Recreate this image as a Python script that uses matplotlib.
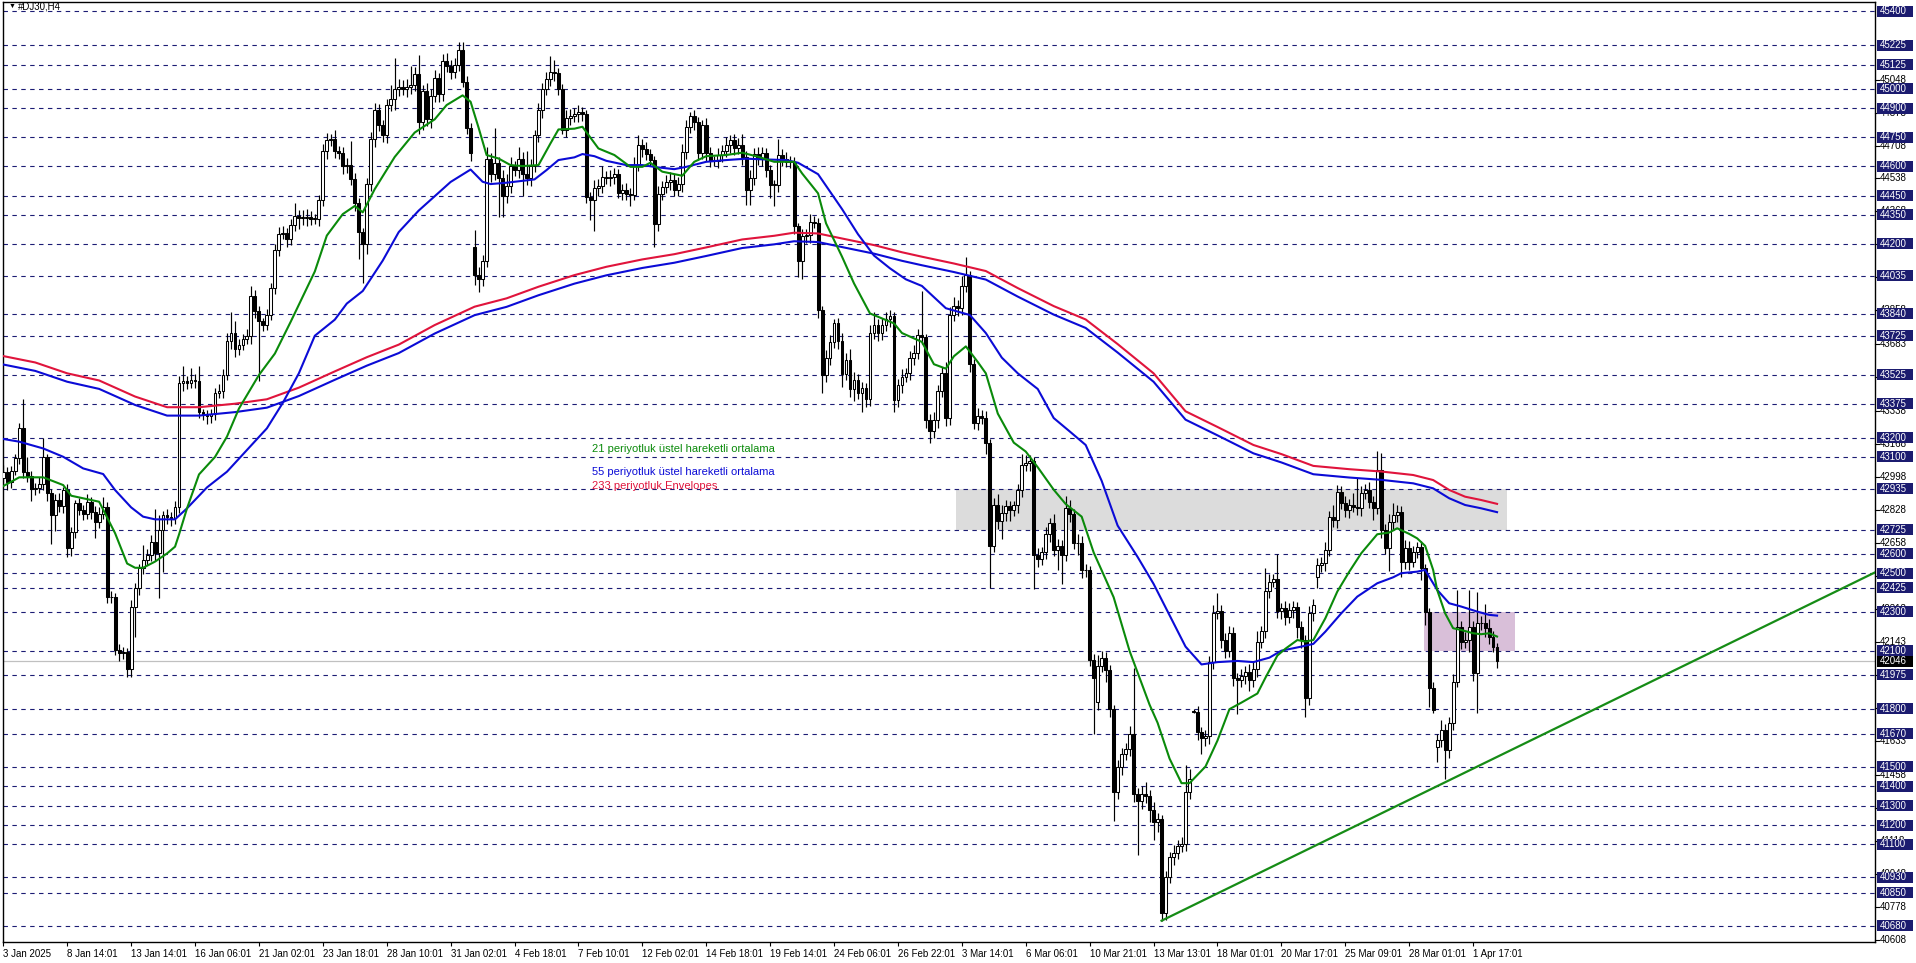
"""Rebuilds the #DJ30 H4 chart: candles, moving averages, level lines and zones."""

import matplotlib

matplotlib.use("Agg")

import matplotlib.pyplot as plt
import numpy as np
from matplotlib.patches import Rectangle
from matplotlib.transforms import blended_transform_factory

plt.rcParams["font.family"] = ["Liberation Sans", "DejaVu Sans"]

SYMBOL = "#DJ30,H4"

# 4 hour closes, bar 0 = 3 Jan 2025
closes = [
    43020, 42972, 43030, 43093, 43248, 43024, 43000, 42935, 42940, 42960, 43098, 42912, 42800, 42878, 42845, 42930, 42628, 42714, 42860, 42825, 42808, 42870, 42818, 42765, 42808,
    42843, 42379, 42375, 42103, 42086, 42095, 42008, 42327, 42422, 42525, 42568, 42594, 42663, 42602, 42723, 42800, 42790, 42783, 42843, 43480, 43490, 43480, 43500, 43490, 43330,
    43320, 43310, 43320, 43430, 43440, 43525, 43700, 43740, 43660, 43680, 43710, 43725, 43930, 43855, 43800, 43780, 43835, 43975, 44169, 44252, 44255, 44225, 44300, 44345, 44335,
    44335, 44340, 44330, 44330, 44425, 44680, 44735, 44740, 44680, 44670, 44603, 44610, 44535, 44410, 44260, 44200, 44510, 44740, 44890, 44815, 44760, 44915, 44950, 45000, 45010,
    45000, 45010, 45020, 45075, 44830, 44990, 44845, 44965, 45055, 44972, 45145, 45120, 45090, 45125, 45200, 45035, 44797, 44668, 44039, 44020, 44110, 44640, 44560, 44620, 44540,
    44450, 44500, 44600, 44580, 44640, 44560, 44540, 44600, 44760, 44890, 45000, 45050, 45090, 45080, 45000, 44790, 44850, 44860, 44870, 44880, 44870, 44440, 44425, 44490, 44500,
    44545, 44540, 44545, 44560, 44465, 44480, 44460, 44455, 44610, 44710, 44690, 44665, 44635, 44305, 44460, 44495, 44520, 44530, 44480, 44510, 44675, 44805, 44860, 44830, 44670,
    44815, 44670, 44630, 44630, 44660, 44680, 44710, 44735, 44695, 44710, 44650, 44480, 44540, 44665, 44640, 44670, 44580, 44505, 44505, 44660, 44640, 44625, 44625, 44290, 44110,
    44240, 44245, 44315, 44310, 43860, 43525, 43610, 43695, 43790, 43700, 43530, 43600, 43450, 43500, 43430, 43454, 43400, 43740, 43780, 43740, 43780, 43810, 43830, 43395, 43470,
    43515, 43532, 43613, 43636, 43729, 43717, 43290, 43232, 43290, 43440, 43532, 43301, 43833, 43879, 43868, 43983, 44041, 43579, 43278, 43313, 43301, 43174, 42642, 42850, 42769,
    42810, 42845, 42827, 42850, 42931, 43058, 43070, 43081, 42596, 42573, 42607, 42700, 42757, 42619, 42640, 42596, 42838, 42804, 42654, 42654, 42515, 42515, 42052, 41960, 42020,
    42060, 42000, 41797, 41370, 41497, 41566, 41590, 41670, 41360, 41325, 41360, 41348, 41277, 41214, 41230, 40745, 40930, 41034, 41057, 41092, 41104, 41370, 41440, 41786, 41681,
    41647, 41660, 42040, 42295, 42307, 42156, 42098, 42190, 41960, 41950, 41970, 41990, 41950, 42005, 42144, 42200, 42410, 42457, 42468, 42306, 42318, 42276, 42310, 42327, 42224,
    42155, 41854, 42293, 42336, 42543, 42552, 42620, 42792, 42775, 42921, 42861, 42827, 42852, 42844, 42835, 42913, 42930, 42870, 42835, 43033, 42723, 42629, 42766, 42801, 42818,
    42560, 42629, 42560, 42612, 42637, 42525, 42302, 41906, 41794, 41639, 41691, 41588, 41725, 41940, 42224, 42147, 42155, 42224, 41983, 42241, 42241, 42216, 42173, 42121, 42046,
]
first_open = 42990

# bars that opened away from the previous close
gap_opens = {118: 44185, 274: 41835, 298: 41790, 329: 42482, 359: 41605}

# wick length above / below the body, index points
wick_up = [
    40, 30, 25, 20, 25, 150, 76, 30, 25, 35, 100, 20, 25, 30, 35, 15, 30, 25, 20, 30, 25, 40, 25, 30, 35,
    50, 25, 30, 25, 30, 25, 20, 35, 30, 25, 80, 30, 35, 170, 80, 20, 30, 25, 30, 40, 80, 30, 60, 30, 80,
    20, 25, 30, 25, 35, 30, 40, 110, 60, 30, 25, 35, 55, 30, 25, 20, 30, 25, 30, 35, 40, 25, 30, 65, 30,
    40, 40, 30, 25, 30, 35, 40, 30, 50, 25, 30, 35, 120, 30, 25, 20, 30, 40, 40, 30, 25, 35, 70, 160, 40,
    35, 40, 100, 40, 100, 30, 40, 35, 45, 30, 35, 40, 30, 35, 40, 40, 30, 25, 85, 40, 35, 60, 30, 180, 30,
    40, 60, 50, 30, 60, 35, 120, 40, 30, 35, 30, 40, 80, 60, 30, 25, 40, 35, 30, 35, 25, 20, 30, 40, 35,
    55, 30, 35, 30, 25, 30, 35, 30, 40, 50, 30, 35, 25, 20, 40, 30, 35, 40, 30, 35, 40, 35, 20, 30, 25,
    25, 35, 30, 25, 35, 30, 40, 25, 30, 35, 60, 30, 40, 30, 35, 30, 25, 30, 25, 80, 30, 35, 30, 25, 20,
    35, 30, 40, 30, 25, 20, 40, 35, 20, 30, 40, 35, 60, 40, 30, 35, 30, 40, 70, 30, 35, 40, 30, 20, 35,
    40, 30, 35, 40, 30, 230, 20, 30, 40, 30, 35, 60, 40, 45, 30, 50, 90, 20, 25, 40, 30, 35, 20, 40, 60,
    40, 35, 30, 25, 30, 60, 40, 30, 20, 35, 30, 40, 30, 50, 35, 30, 60, 40, 30, 50, 40, 30, 20, 30, 60,
    40, 35, 25, 20, 40, 30, 35, 40, 340, 30, 40, 60, 35, 40, 30, 20, 30, 25, 40, 30, 35, 140, 50, 10, 30,
    25, 30, 35, 40, 90, 30, 35, 40, 30, 25, 35, 30, 40, 35, 60, 30, 115, 40, 30, 130, 30, 40, 35, 30, 25,
    30, 25, 40, 30, 35, 30, 40, 30, 60, 35, 30, 40, 30, 60, 150, 35, 30, 40, 30, 100, 90, 30, 40, 60, 35,
    30, 40, 35, 30, 25, 30, 25, 20, 30, 30, 50, 30, 35, 40, 190, 30, 40, 190, 30, 160, 40, 100, 50, 30, 20,
]
wick_dn = [
    30, 40, 30, 25, 30, 35, 30, 60, 30, 25, 30, 40, 150, 80, 30, 35, 45, 40, 30, 25, 35, 30, 40, 85, 30,
    30, 35, 30, 25, 40, 30, 45, 45, 155, 35, 30, 25, 30, 40, 230, 215, 35, 40, 30, 30, 40, 30, 25, 35, 30,
    30, 40, 35, 30, 25, 35, 30, 40, 45, 35, 30, 25, 40, 35, 310, 30, 25, 30, 35, 30, 25, 40, 30, 35, 60,
    35, 40, 30, 25, 35, 30, 40, 30, 35, 30, 40, 35, 30, 40, 140, 200, 50, 35, 40, 30, 35, 40, 30, 60, 35,
    30, 40, 35, 30, 60, 40, 35, 45, 30, 40, 35, 30, 40, 35, 30, 25, 30, 40, 50, 70, 35, 30, 40, 30, 200,
    110, 40, 35, 30, 40, 110, 35, 40, 30, 35, 40, 30, 35, 40, 30, 25, 40, 35, 30, 40, 35, 30, 100, 160, 40,
    35, 30, 40, 35, 30, 40, 35, 60, 30, 35, 40, 30, 35, 120, 40, 35, 30, 40, 35, 30, 40, 35, 30, 40, 35,
    30, 40, 35, 30, 40, 35, 30, 40, 35, 30, 40, 80, 80, 35, 30, 40, 35, 70, 110, 35, 40, 30, 35, 40, 80,
    90, 35, 40, 30, 40, 95, 40, 35, 30, 40, 70, 35, 40, 60, 30, 100, 40, 35, 30, 40, 35, 30, 40, 65, 35,
    40, 30, 35, 40, 30, 35, 40, 60, 35, 40, 30, 40, 35, 30, 40, 35, 30, 40, 35, 40, 30, 60, 220, 35, 40,
    90, 40, 60, 30, 40, 35, 30, 40, 175, 40, 30, 35, 40, 30, 100, 150, 35, 40, 30, 60, 40, 35, 30, 290, 40,
    30, 60, 40, 150, 35, 40, 30, 35, 40, 280, 40, 35, 60, 90, 50, 40, 35, 30, 40, 35, 30, 40, 35, 10, 40,
    80, 40, 40, 35, 30, 40, 35, 30, 40, 175, 35, 40, 60, 35, 40, 30, 35, 40, 30, 35, 40, 45, 35, 40, 60,
    40, 95, 35, 40, 60, 35, 40, 30, 35, 40, 30, 35, 40, 30, 35, 40, 30, 35, 60, 30, 40, 30, 120, 40, 35,
    80, 40, 45, 30, 35, 60, 70, 95, 15, 80, 35, 150, 40, 35, 30, 40, 35, 60, 40, 205, 35, 45, 40, 30, 35,
]

# indicator lines, read every few bars
ema21_bars = [0, 4, 10, 15, 17, 24, 28, 31, 33, 35, 38, 41, 43, 44, 46, 49, 53, 56, 59, 64, 68, 72, 78, 81, 85, 88, 90, 93, 98, 103,
              108, 111, 115, 117, 119, 121, 124, 127, 130, 134, 137, 139, 143, 145, 149, 153, 157, 160, 162, 165, 170, 173, 176, 181, 185,
              189, 193, 198, 200, 204, 206, 210, 213, 217, 221, 223, 225, 230, 233, 236, 238, 241, 244, 246, 249, 253, 256, 259, 263, 266,
              270, 273, 275, 278, 282, 287, 289, 292, 295, 297, 301, 304, 307, 310, 314, 316, 319, 321, 324, 326, 328, 331, 334, 337, 340,
              344, 347, 349, 352, 354, 356, 358, 359, 361, 363, 365, 368, 370, 372, 374]
ema21_vals = [42950, 42995, 42995, 42955, 42900, 42869, 42706, 42550, 42528, 42528, 42560, 42602, 42637, 42700, 42835, 43010, 43100, 43205, 43350, 43523, 43634, 43800, 44058, 44243, 44354, 44396, 44363, 44483, 44649, 44775,
              44843, 44917, 44967, 44934, 44800, 44659, 44641, 44607, 44602, 44607, 44719, 44791, 44795, 44805, 44693, 44659, 44598, 44598, 44619, 44573, 44552, 44624, 44653, 44659, 44671,
              44650, 44624, 44624, 44564, 44461, 44306, 44134, 43996, 43841, 43807, 43790, 43740, 43694, 43579, 43556, 43620, 43671, 43590, 43532, 43324, 43174, 43128, 43047, 42931, 42857,
              42792, 42607, 42515, 42376, 42098, 41821, 41728, 41543, 41416, 41416, 41502, 41636, 41798, 41832, 41879, 41960, 42075, 42110, 42155, 42147, 42155, 42267, 42405, 42508, 42603,
              42701, 42710, 42732, 42703, 42680, 42641, 42517, 42414, 42293, 42216, 42207, 42190, 42185, 42190, 42173]

ema55_bars = [0, 4, 10, 15, 20, 25, 28, 32, 35, 38, 43, 46, 51, 56, 61, 66, 70, 74, 78, 83, 86, 90, 95, 99, 104, 108, 112, 117, 120, 122,
              126, 133, 136, 139, 143, 145, 148, 151, 156, 160, 164, 168, 171, 176, 181, 186, 191, 196, 199, 204, 206, 210, 214, 218, 222,
              226, 230, 236, 242, 246, 250, 254, 259, 263, 267, 271, 275, 279, 284, 288, 292, 296, 300, 304, 309, 313, 317, 320, 325, 328,
              331, 335, 339, 344, 348, 350, 354, 356, 357, 359, 362, 365, 369, 372, 374]
ema55_vals = [43193, 43179, 43144, 43101, 43041, 43012, 42929, 42840, 42792, 42778, 42778, 42835, 42943, 43024, 43136, 43248, 43380, 43532, 43726, 43809, 43892, 43957, 44114, 44261, 44372, 44446, 44520, 44584, 44521, 44509,
              44516, 44533, 44581, 44633, 44647, 44664, 44653, 44629, 44607, 44607, 44595, 44586, 44598, 44624, 44633, 44640, 44636, 44633, 44619, 44560, 44500, 44380, 44250, 44140, 44074,
              44017, 43983, 43868, 43833, 43740, 43613, 43532, 43451, 43301, 43232, 43162, 42977, 42746, 42584, 42445, 42283, 42121, 42029, 42041, 42047, 42041, 42064, 42100, 42121, 42135,
              42198, 42293, 42379, 42448, 42479, 42500, 42508, 42517, 42482, 42414, 42345, 42328, 42302, 42285, 42281]

# 233 period envelopes, upper band (the red one)
env_bars = [0, 8, 16, 24, 33, 41, 49, 58, 66, 74, 83, 91, 99, 108, 118, 126, 134, 143, 151, 160, 168, 176, 185, 193, 198,
            204, 210, 218, 225, 230, 238, 246, 254, 263, 271, 279, 288, 296, 304, 313, 320, 328, 337, 345, 353, 358, 362, 366, 370, 374]
env_upper = [43621, 43588, 43532, 43495, 43412, 43357, 43357, 43375, 43398, 43458, 43542, 43615, 43680, 43781, 43876, 43919, 43979, 44039, 44082, 44120, 44147, 44182, 44223, 44242, 44258,
             44254, 44228, 44194, 44157, 44134, 44099, 44060, 43972, 43879, 43810, 43683, 43532, 43336, 43255, 43162, 43115, 43054, 43037, 43025, 43007, 42981, 42930, 42895, 42878, 42858]
ENV_DEVIATION = 0.0005

# rising support line through the March low
trend_bars = [290, 395]
trend_prices = [40706, 41763]

# zones: (first bar, last bar, low price, high price)
grey_zone = (238.5, 376.5, 42725, 42935)
pink_zone = (355.6, 378.6, 42100, 42300)

level_prices = [45400, 45225, 45125, 45000, 44900, 44750, 44600, 44450, 44350, 44200, 44035, 43840,
                43725, 43525, 43375, 43200, 43100, 42935, 42725, 42600, 42500, 42425, 42300, 42100,
                41975, 41800, 41670, 41500, 41400, 41300, 41200, 41100, 40930, 40850, 40680]
scale_prices = [45048, 44878, 44708, 44538, 44368, 44198, 44028, 43858, 43683, 43513, 43338, 43168,
                42998, 42828, 42658, 42488, 42313, 42143, 41973, 41803, 41633, 41458, 41288, 41118,
                40948, 40778, 40608]
last_price = 42046

tick_bars = list(range(0, 369, 16))
tick_labels = ["3 Jan 2025", "8 Jan 14:01", "13 Jan 14:01", "16 Jan 06:01", "21 Jan 02:01",
               "23 Jan 18:01", "28 Jan 10:01", "31 Jan 02:01", "4 Feb 18:01", "7 Feb 10:01",
               "12 Feb 02:01", "14 Feb 18:01", "19 Feb 14:01", "24 Feb 06:01", "26 Feb 22:01",
               "3 Mar 14:01", "6 Mar 06:01", "10 Mar 21:01", "13 Mar 13:01", "18 Mar 01:01",
               "20 Mar 17:01", "25 Mar 09:01", "28 Mar 01:01", "1 Apr 17:01"]

legend_texts = ["21 periyotluk üstel hareketli ortalama",
                "55 periyotluk üstel hareketli ortalama",
                "233 periyotluk Envelopes"]
legend_prices = [43140, 43020, 42950]
legend_bar = 147.3

# pixel layout of the screenshot
FIG_W, FIG_H = 1916, 963
PLOT_LEFT, PLOT_RIGHT, PLOT_TOP, PLOT_BOTTOM = 2.5, 1875, 2, 942
BAR_PX = 3.994
Y_LIMITS = (40596, 45449)

NAVY = "#1b1b6f"
DASH_COLOR = "#1c1c74"
GREEN = "#0a8a0a"
BLUE = "#0b0bd6"
RED = "#e0143c"


def build_ohlc():
    """Open, high, low and close arrays from the close and wick lists."""
    c = np.array(closes, dtype=float)
    o = np.empty_like(c)
    o[0] = first_open
    o[1:] = c[:-1]
    for bar, price in gap_opens.items():
        o[bar] = price
    h = np.maximum(o, c) + np.array(wick_up)
    lo = np.minimum(o, c) - np.array(wick_dn)
    return o, h, lo, c


def axes_x(px):
    """Figure pixel column -> axes fraction."""
    return (px - PLOT_LEFT) / (PLOT_RIGHT - PLOT_LEFT)


def draw_candles(ax):
    """Draw the candlesticks (white = up, black = down)."""
    o, h, lo, c = build_ohlc()
    x = np.arange(len(c))
    up = c >= o
    body = np.maximum(np.abs(c - o), 2.0)
    ax.vlines(x, lo, h, color="black", lw=0.85, zorder=3)
    ax.bar(x[up], body[up], bottom=o[up], width=0.72, color="white",
           edgecolor="black", lw=0.75, zorder=4)
    ax.bar(x[~up], body[~up], bottom=c[~up], width=0.72, color="black",
           edgecolor="black", lw=0.75, zorder=4)


def draw_indicators(ax):
    """EMA 21, EMA 55 and the 233 envelope bands."""
    upper = np.array(env_upper, dtype=float)
    mid = upper / (1 + ENV_DEVIATION)
    lower = mid * (1 - ENV_DEVIATION)
    ax.plot(env_bars, upper, color=RED, lw=1.5, zorder=5)
    ax.plot(env_bars, lower, color=BLUE, lw=1.5, zorder=5)
    ax.plot(ema55_bars, ema55_vals, color=BLUE, lw=1.5, zorder=5)
    ax.plot(ema21_bars, ema21_vals, color=GREEN, lw=1.5, zorder=6)

    # trend line runs from the low to the right edge
    slope = (trend_prices[1] - trend_prices[0]) / (trend_bars[1] - trend_bars[0])
    x_end = ax.get_xlim()[1]
    y_end = trend_prices[0] + slope * (x_end - trend_bars[0])
    ax.plot([trend_bars[0], x_end], [trend_prices[0], y_end], color="#168c16",
            lw=1.6, zorder=6)

    colors = [GREEN, BLUE, RED]
    for text, price, color in zip(legend_texts, legend_prices, colors):
        ax.text(legend_bar, price, text, color=color, fontsize=8, ha="left",
                va="center", zorder=7)


def draw_zones(ax):
    """Background rectangles."""
    for (x0, x1, y0, y1), color in ((grey_zone, "#dcdcdc"), (pink_zone, "#d9bfd9")):
        ax.add_patch(Rectangle((x0, y0), x1 - x0, y1 - y0, facecolor=color,
                               edgecolor="none", zorder=0.5))


def draw_price_scale(ax):
    """Right hand price scale with boxed level labels."""
    trans = blended_transform_factory(ax.transAxes, ax.transData)
    box_half = 5.5 / ((PLOT_BOTTOM - PLOT_TOP) / (Y_LIMITS[1] - Y_LIMITS[0]))
    box_x = axes_x(1877)
    box_w = axes_x(1913) - box_x
    text_x = axes_x(1880)

    for price in scale_prices:
        ax.plot([1, axes_x(1879)], [price, price], transform=trans, color="black",
                lw=0.8, clip_on=False, zorder=8)
        ax.text(text_x, price, str(price), transform=trans, fontsize=7,
                color="black", ha="left", va="center", clip_on=False, zorder=8)

    for price in level_prices:
        ax.axhline(price, color=DASH_COLOR, lw=0.8, linestyle=(0, (4, 4)), zorder=1)
        ax.add_patch(Rectangle((box_x, price - box_half), box_w, 2 * box_half,
                               transform=trans, facecolor=NAVY, edgecolor="none",
                               clip_on=False, zorder=9))
        ax.text(text_x, price, str(price), transform=trans, fontsize=7,
                color="white", ha="left", va="center", clip_on=False, zorder=10)

    ax.axhline(last_price, color="#c0c0c0", lw=0.9, zorder=1)
    ax.add_patch(Rectangle((box_x, last_price - box_half), box_w, 2 * box_half,
                           transform=trans, facecolor="black", edgecolor="none",
                           clip_on=False, zorder=11))
    ax.text(text_x, last_price, str(last_price), transform=trans, fontsize=7,
            color="white", ha="left", va="center", clip_on=False, zorder=12)


def main():
    """Build the figure and save it."""
    fig = plt.figure(figsize=(FIG_W / 100, FIG_H / 100), dpi=100)
    fig.patch.set_facecolor("white")
    ax = fig.add_axes([
        PLOT_LEFT / FIG_W,
        1 - PLOT_BOTTOM / FIG_H,
        (PLOT_RIGHT - PLOT_LEFT) / FIG_W,
        (PLOT_BOTTOM - PLOT_TOP) / FIG_H,
    ])
    x_left = -0.2
    ax.set_xlim(x_left, x_left + (PLOT_RIGHT - PLOT_LEFT) / BAR_PX)
    ax.set_ylim(*Y_LIMITS)

    draw_zones(ax)
    draw_price_scale(ax)
    draw_candles(ax)
    draw_indicators(ax)

    ax.set_yticks([])
    ax.set_xticks(tick_bars)
    ax.set_xticklabels(tick_labels, fontsize=7, ha="left")
    ax.tick_params(axis="x", direction="out", length=3, width=0.8, pad=2)
    for spine in ax.spines.values():
        spine.set_color("black")
        spine.set_linewidth(1.0)

    ax.text(0.003, 0.9955, "\u25bc", transform=ax.transAxes, fontsize=5,
            va="center", ha="left", zorder=12)
    ax.text(0.0085, 0.9955, SYMBOL, transform=ax.transAxes, fontsize=7,
            va="center", ha="left", zorder=12)

    fig.savefig("out.png", dpi=100)


if __name__ == "__main__":
    main()
